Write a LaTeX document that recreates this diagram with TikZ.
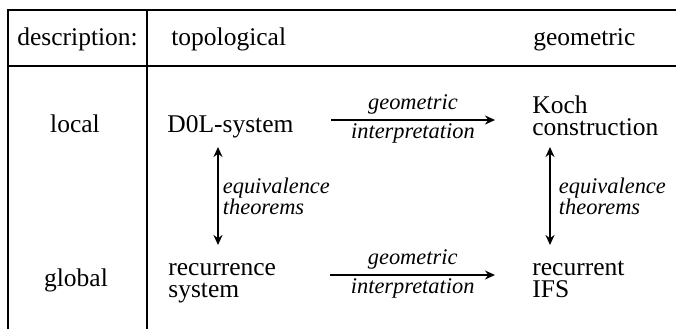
\documentclass[tikz,border=0pt]{standalone}
\usepackage{fontspec}
\setmainfont{Liberation Serif}
\usetikzlibrary{arrows.meta}

\begin{document}
\begin{tikzpicture}[x=.5pt,y=-.5pt,
  rule/.style={line width=1pt},
  txt/.style={inner sep=0pt,anchor=base west,align=left,font=\fontsize{12.75}{11}\selectfont},
  rowlabel/.style={inner sep=0pt,anchor=base,font=\fontsize{12.75}{11}\selectfont},
  link/.style={line width=.9pt,-{Stealth[length=5pt,width=4.5pt]}},
  twoway/.style={line width=.9pt,{Stealth[length=5pt,width=4.5pt]}-{Stealth[length=5pt,width=4.5pt]}},
  note/.style={font=\fontsize{11.2}{10.5}\selectfont\itshape,align=left}]
  \useasboundingbox (0,0) rectangle (676,329);
  \draw[rule] (676,10) -- (8,10) -- (8,329);
  \draw[rule] (8,66) -- (676,66);
  \draw[rule] (147,10) -- (147,329);
  \node[txt] (desc) at (17,45) {description:};
  \node[txt] (topo) at (171,45) {topological};
  \node[txt] (geom) at (533,45) {geometric};
  \node[rowlabel] (local) at (75,132) {local};
  \node[rowlabel] (global) at (76,286) {global};
  % multi-line nodes sit on their last baseline
  \node[txt] (dol) at (167,132) {D0L-system};
  \node[txt] (koch) at (532,135) {Koch\\construction};
  \node[txt] (rec) at (168,297) {recurrence\\system};
  \node[txt] (rifs) at (532,297) {recurrent\\IFS};
  \draw[link] ([shift={(37,-12)}]dol.base east) -- ([shift={(-37,-15)}]koch.base west)
    node[note,midway,above,inner sep=2.5pt] {geometric}
    node[note,midway,below,inner sep=1.5pt] {interpretation};
  \draw[link] ([shift={(54,-22)}]rec.base east) -- ([shift={(-37,-22)}]rifs.base west)
    node[note,midway,above,inner sep=2.5pt] {geometric}
    node[note,midway,below,inner sep=1.5pt] {interpretation};
  \draw[twoway] ([shift={(51,15)}]dol.base west) -- ([shift={(50,-52)}]rec.base west)
    node[note,midway,right,inner sep=2pt] {equivalence\\theorems};
  \draw[twoway] ([shift={(18,12)}]koch.base west) -- ([shift={(18,-52)}]rifs.base west)
    node[note,midway,right,inner sep=2pt,xshift=2pt] {equivalence\\theorems};
\end{tikzpicture}
\end{document}
